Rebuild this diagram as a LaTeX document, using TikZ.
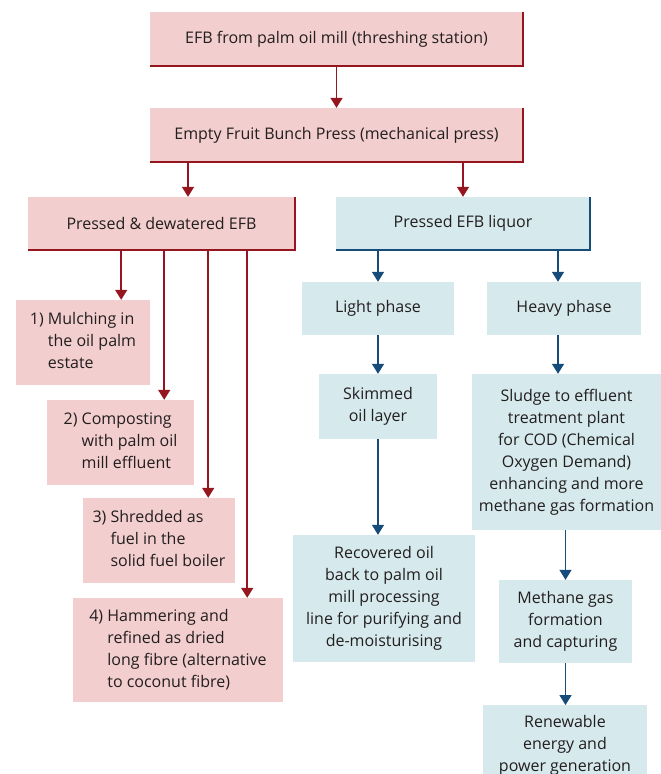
\documentclass[tikz,border=0pt]{standalone}
\usepackage{fontspec}
\setmainfont{Open Sans}
\usetikzlibrary{arrows.meta,positioning}
\definecolor{efbpink}{RGB}{243,206,206}
\definecolor{efbred}{RGB}{150,22,32}
\definecolor{liqblue}{RGB}{214,234,238}
\definecolor{liqdark}{RGB}{22,76,122}
\definecolor{efbtext}{RGB}{35,30,30}

\begin{document}
\begin{tikzpicture}[x=1pt, y=-1pt,
    box/.style={inner sep=0pt, align=center, text=efbtext,
                font=\fontsize{16}{22}\selectfont},
    pinkbox/.style={box, fill=efbpink},
    bluebox/.style={box, fill=liqblue},
    redarrow/.style={-{Triangle[width=12pt,length=10pt]}, line width=1.6pt, draw=efbred},
    bluearrow/.style={-{Triangle[width=12pt,length=10pt]}, line width=1.6pt, draw=liqdark},
    rededge/.style={line width=2.4pt, draw=efbred},
    blueedge/.style={line width=2.4pt, draw=liqdark},
]
    \useasboundingbox (0,0) rectangle (661,774);

    % main line
    \node[pinkbox, minimum width=373, minimum height=54] (efb) at (336.5,39)
        {EFB from palm oil mill (threshing station)};
    \node[pinkbox, minimum width=373, minimum height=54] (press) at (336.5,135)
        {Empty Fruit Bunch Press (mechanical press)};
    \node[pinkbox, minimum width=267, minimum height=53] (pd) at (161.5,223.5)
        {Pressed \& dewatered EFB};
    \node[bluebox, minimum width=254, minimum height=53] (pl) at (463,223.5)
        {Pressed EFB liquor};

    % pressed EFB uses
    \node[pinkbox, minimum width=134, minimum height=85] (mulch) at (83,342.5)
        {\begin{tabular}{@{}l@{ }l@{}}1) & Mulching in\\ & the oil palm\\ & estate\end{tabular}};
    \node[pinkbox, minimum width=147, minimum height=85] (compost) at (120.5,442.5)
        {\begin{tabular}{@{}l@{ }l@{}}2) & Composting\\ & with palm oil\\ & mill effluent\end{tabular}};
    \node[pinkbox, minimum width=152, minimum height=85] (shred) at (159,540.5)
        {\begin{tabular}{@{}l@{ }l@{}}3) & Shredded as\\ & fuel in the\\ & solid fuel boiler\end{tabular}};
    \node[pinkbox, minimum width=210, minimum height=104] (hammer) at (178,650)
        {\begin{tabular}{@{}l@{ }l@{}}4) & Hammering and\\ & refined as dried\\ & long fibre (alternative\\ & to coconut fibre)\end{tabular}};

    % liquor phases
    \node[bluebox, minimum width=152, minimum height=53] (light) at (378,308.5) {Light phase};
    \node[bluebox, minimum width=154, minimum height=53] (heavy) at (564,308.5) {Heavy phase};
    \node[bluebox, minimum width=118, minimum height=65] (skim) at (378,406.5) {Skimmed\\oil layer};
    \node[bluebox, minimum width=189, minimum height=156] (sludge) at (566.5,452)
        {Sludge to effluent\\treatment plant\\for COD (Chemical\\Oxygen Demand)\\enhancing and more\\methane gas formation};
    \node[bluebox, minimum width=182, minimum height=127] (recov) at (384,598.5)
        {Recovered oil\\back to palm oil\\mill processing\\line for purifying and\\de-moisturising};
    \node[bluebox, minimum width=133, minimum height=83] (methane) at (565.5,621.5)
        {Methane gas\\formation\\and capturing};
    \node[bluebox, minimum width=164, minimum height=80, anchor=north] (renew) at (565,705)
        {Renewable\\energy and\\power generation};

    % arrows
    \coordinate (pdin) at ([xshift=26.5pt]pd.north);
    \coordinate (heavyin) at ([xshift=-6pt]heavy.north);
    \coordinate (heavyout) at ([xshift=-6pt]heavy.south);
    \coordinate (mulchin) at ([xshift=-29pt]mulch.north east);
    \coordinate (compostin) at ([xshift=-30pt]compost.north east);
    \coordinate (shredin) at ([xshift=-27pt]shred.north east);
    \coordinate (hammerin) at ([xshift=-36pt]hammer.north east);

    \draw[redarrow] (efb) -- (press);
    \draw[redarrow] (press.south -| pdin) -- (pdin);
    \draw[redarrow] (press.south -| pl.north) -- (pl.north);
    \draw[redarrow] (pd.south -| mulchin) -- (mulchin);
    \draw[redarrow] (pd.south -| compostin) -- (compostin);
    \draw[redarrow] (pd.south -| shredin) -- (shredin);
    \draw[redarrow] (pd.south -| hammerin) -- (hammerin);

    \draw[bluearrow] (pl.south -| light.north) -- (light.north);
    \draw[bluearrow] (pl.south -| heavyin) -- (heavyin);
    \draw[bluearrow] (light) -- (skim);
    \draw[bluearrow] (skim.south) -- (skim.south |- recov.north);
    \draw[bluearrow] (heavyout) -- (heavyout |- sludge.north);
    \draw[bluearrow] (sludge.south -| methane.north) -- (methane.north);
    \draw[bluearrow] (methane) -- (methane |- renew.north);

    % shadow edges
    \foreach \n in {efb,press,pd}
        \draw[rededge] (\n.south west) -- (\n.south east) -- (\n.north east);
    \draw[blueedge] (pl.south west) -- (pl.south east) -- (pl.north east);
\end{tikzpicture}
\end{document}
